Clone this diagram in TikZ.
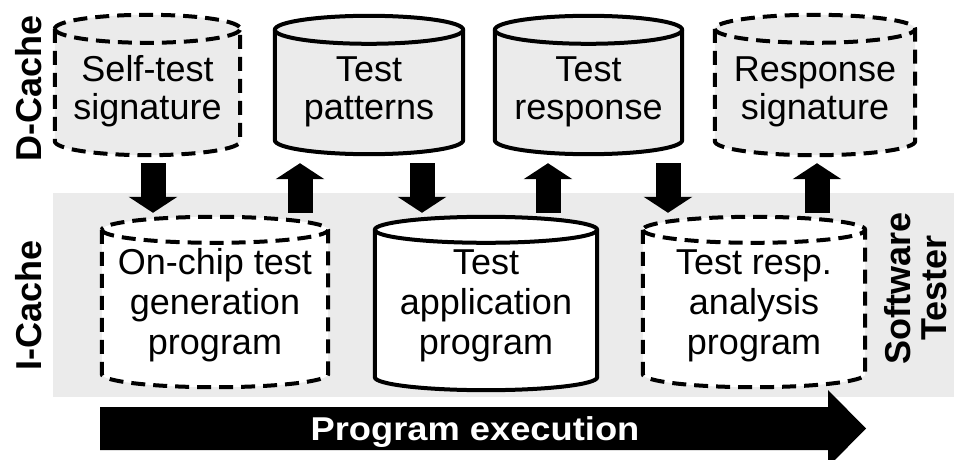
\documentclass[tikz,border=0pt]{standalone}
\usepackage{fontspec}
\setmainfont{Liberation Sans}
\usetikzlibrary{arrows.meta,calc}

% cylinder outline drawn around an (empty) rectangular node
% #1 node, #2 cap radius, #3 fill colour, #4 line style
\newcommand\drawcyl[4]{%
  \filldraw[fill=#3,#4] let \p1=(#1.north west), \p2=(#1.south east), \n1={(\x2-\x1)/2} in
    (\x1,\y1-#2) -- (\x1,\y2+#2)
    arc[start angle=180,end angle=360,x radius=\n1,y radius=#2]
    -- (\x2,\y1-#2)
    arc[start angle=0,end angle=180,x radius=\n1,y radius=#2] -- cycle;
  \draw[#4] let \p1=(#1.north west), \p2=(#1.south east), \n1={(\x2-\x1)/2} in
    (\x1,\y1-#2) arc[start angle=180,end angle=360,x radius=\n1,y radius=#2];
}

\tikzset{
  cylbox/.style={rectangle, inner sep=0pt, draw=none},
  toptext/.style={font=\fontsize{36pt}{38pt}\selectfont, align=center, inner sep=0pt},
  bottext/.style={font=\fontsize{36pt}{40pt}\selectfont, align=center, inner sep=0pt},
  sidelabel/.style={font=\bfseries\fontsize{36pt}{36pt}\selectfont, rotate=90, align=center, inner sep=0pt},
  solidline/.style={line width=4pt},
  dashline/.style={line width=4pt, dash pattern=on 14pt off 8pt},
  blockarrow/.style={line width=25pt, -{Triangle[width=48pt,length=16pt]}},
  stipple/.style={fill=black!8},
}

\begin{document}
\begin{tikzpicture}[x=1pt,y=1pt]
\useasboundingbox (0,0) rectangle (954,-460);
\clip (0,0) rectangle (954,-460);

% shaded band behind the instruction cache row
\fill[stipple] (53,-193) rectangle (954,-397);

% data cache row
\node[cylbox, minimum width=185pt, minimum height=140pt] (sts) at (147.5,-85) {};
\node[cylbox, minimum width=188pt, minimum height=138pt] (tp)  at (369,-85) {};
\node[cylbox, minimum width=187pt, minimum height=138pt] (tr)  at (588.5,-85) {};
\node[cylbox, minimum width=200pt, minimum height=140pt] (rs)  at (815,-85) {};
\drawcyl{sts}{14pt}{black!8}{dashline}
\drawcyl{tp}{14pt}{black!8}{solidline}
\drawcyl{tr}{14pt}{black!8}{solidline}
\drawcyl{rs}{14pt}{black!8}{dashline}

% instruction cache row
\node[cylbox, minimum width=226pt, minimum height=170pt] (og) at (215,-302) {};
\node[cylbox, minimum width=222pt, minimum height=173pt] (ta) at (486,-303.5) {};
\node[cylbox, minimum width=222pt, minimum height=170pt] (ra) at (754,-302) {};
\drawcyl{og}{13pt}{white}{dashline}
\drawcyl{ta}{13pt}{white}{solidline}
\drawcyl{ra}{13pt}{white}{dashline}

% cylinder labels
\node[toptext] (sts-t) at (147.5,-91.6) {Self-test\\signature};
\node[toptext] (tp-t)  at (369,-91.6) {Test\\patterns};
\node[toptext] (tr-t)  at (588.5,-91.6) {Test\\response};
\node[toptext] (rs-t)  at (815,-91.6) {Response\\signature};
\node[bottext] (og-t)  at (215,-305.6) {On-chip test\\generation\\program};
\node[bottext] (ta-t)  at (486,-305.6) {Test\\application\\program};
\node[bottext] (ra-t)  at (754,-305.6) {Test resp.\\analysis\\program};

% transfer arrows between the rows
\coordinate (a1) at (153,0);
\coordinate (a2) at (300,0);
\coordinate (a3) at (422,0);
\coordinate (a4) at (548,0);
\coordinate (a5) at (668,0);
\coordinate (a6) at (817,0);
\draw[blockarrow, shorten <=8pt, shorten >=4pt] (sts.south -| a1) -- (og.north -| a1);
\draw[blockarrow, shorten <=4pt, shorten >=9pt] (og.north -| a2) -- (tp.south -| a2);
\draw[blockarrow, shorten <=9pt, shorten >=4pt] (tp.south -| a3) -- (ta.north -| a3);
\draw[blockarrow, shorten <=4pt, shorten >=9pt] (ta.north -| a4) -- (tr.south -| a4);
\draw[blockarrow, shorten <=9pt, shorten >=4pt] (tr.south -| a5) -- (ra.north -| a5);
\draw[blockarrow, shorten <=4pt, shorten >=8pt] (ra.north -| a6) -- (rs.south -| a6);

% side labels
\node[sidelabel] (dc) at (28.5,-88) {D-Cache};
\node[sidelabel] (ic) at (28.5,-305) {I-Cache};
\node[sidelabel] (st) at (916,-288) {Software\\Tester};

% program execution arrow
\fill[black] (100,-407) -- (828,-407) -- (828,-390) -- (866,-428.5)
  -- (828,-467) -- (828,-450) -- (100,-450) -- cycle;
\node[font=\bfseries\fontsize{33pt}{33pt}\selectfont, text=white, inner sep=0pt,
      anchor=base, xscale=1.1] (pe) at (475,-440) {Program execution};
\end{tikzpicture}
\end{document}
